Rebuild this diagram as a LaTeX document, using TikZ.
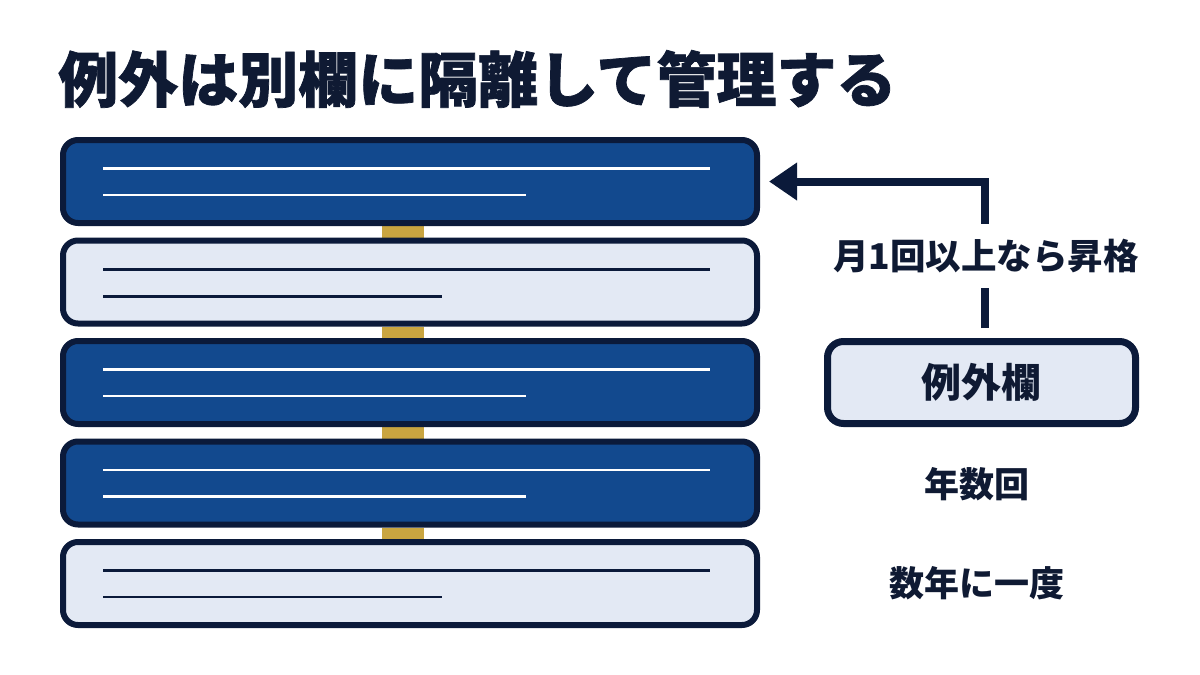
\documentclass[tikz,border=0pt]{standalone}
\usepackage{fontspec}
\newfontfamily\jp{Noto Sans CJK JP}
\newfontfamily\jptitle{Noto Sans CJK JP}[BoldFeatures={FakeBold=1.2}]
\usetikzlibrary{arrows.meta,backgrounds}
\definecolor{navy}{HTML}{0B1A3A}
\definecolor{darkblue}{HTML}{12498E}
\definecolor{lightfill}{HTML}{E3E9F4}
\definecolor{goldc}{HTML}{C9A540}
\definecolor{txt}{HTML}{0F1A33}
\tikzset{
  bar/.style={draw=navy, line width=6pt, rounded corners=15pt, minimum width=694pt, minimum height=83pt, inner sep=0pt},
  darkbar/.style={bar, fill=darkblue},
  lightbar/.style={bar, fill=lightfill},
  wline/.style={draw=white, line width=2.8pt},
  nline/.style={draw=navy, line width=2.8pt},
  exbox/.style={draw=navy, line width=7pt, rounded corners=16pt, fill=lightfill, minimum width=308pt, minimum height=82pt, inner sep=0pt, text=txt, font=\jp\bfseries\fontsize{40pt}{40pt}\selectfont},
  lbl/.style={text=txt, font=\jp\bfseries\fontsize{35pt}{35pt}\selectfont, inner sep=0pt},
  arr/.style={draw=navy, line width=8pt, -{Triangle[length=28pt,width=36pt]}},
  goldlink/.style={fill=goldc}
}
\begin{document}
\begin{tikzpicture}[x=1pt,y=-1pt]
\useasboundingbox (0,0) rectangle (1200,675);
\node[anchor=west, inner sep=0pt, text=txt, font=\jptitle\bfseries\fontsize{60pt}{60pt}\selectfont] (title) at (58,79) {例外は別欄に隔離して管理する};
% bars
\node[darkbar] (b1) at (410,181.5) {};
\node[lightbar] (b2) at (410,282) {};
\node[darkbar] (b3) at (410,382.5) {};
\node[darkbar] (b4) at (410,483) {};
\node[lightbar] (b5) at (410,583.5) {};
% gold links
\coordinate (gl) at (382,0);
\coordinate (gr) at (424,0);
\begin{scope}[on background layer]
\fill[white] (0,0) rectangle (1200,675);
\fill[goldlink] (b1.south -| gl) rectangle (b2.north -| gr);
\fill[goldlink] (b2.south -| gl) rectangle (b3.north -| gr);
\fill[goldlink] (b3.south -| gl) rectangle (b4.north -| gr);
\fill[goldlink] (b4.south -| gl) rectangle (b5.north -| gr);
\end{scope}
% text lines
\draw[wline] (103,168.5) -- (710,168.5);
\draw[wline] (103,195) -- (526,195);
\draw[nline] (103,269.5) -- (710,269.5);
\draw[nline] (103,296.5) -- (442,296.5);
\draw[wline] (103,369.5) -- (710,369.5);
\draw[wline] (103,396) -- (526,396);
\draw[wline] (103,470) -- (710,470);
\draw[wline] (103,496.5) -- (526,496.5);
\draw[nline] (103,570.5) -- (710,570.5);
\draw[nline] (103,597) -- (442,597);
% exception box
\node[exbox] (ex) at (981.5,382.5) {例外欄};
% arrow
\coordinate (start) at (985,328);
\coordinate (corner) at (985,181.5);
\coordinate (tip) at (769,181.5);
\draw[arr] (start) -- (corner) -- (tip);
\node[fill=white, inner xsep=2pt, inner ysep=15pt, text=txt, font=\jp\bfseries\fontsize{35.5pt}{35.5pt}\selectfont] (promo) at (986,256) {月1回以上なら昇格};
% frequency labels
\node[lbl] (f1) at (976.5,484) {年数回};
\node[lbl] (f2) at (976.5,583) {数年に一度};
\end{tikzpicture}
\end{document}
